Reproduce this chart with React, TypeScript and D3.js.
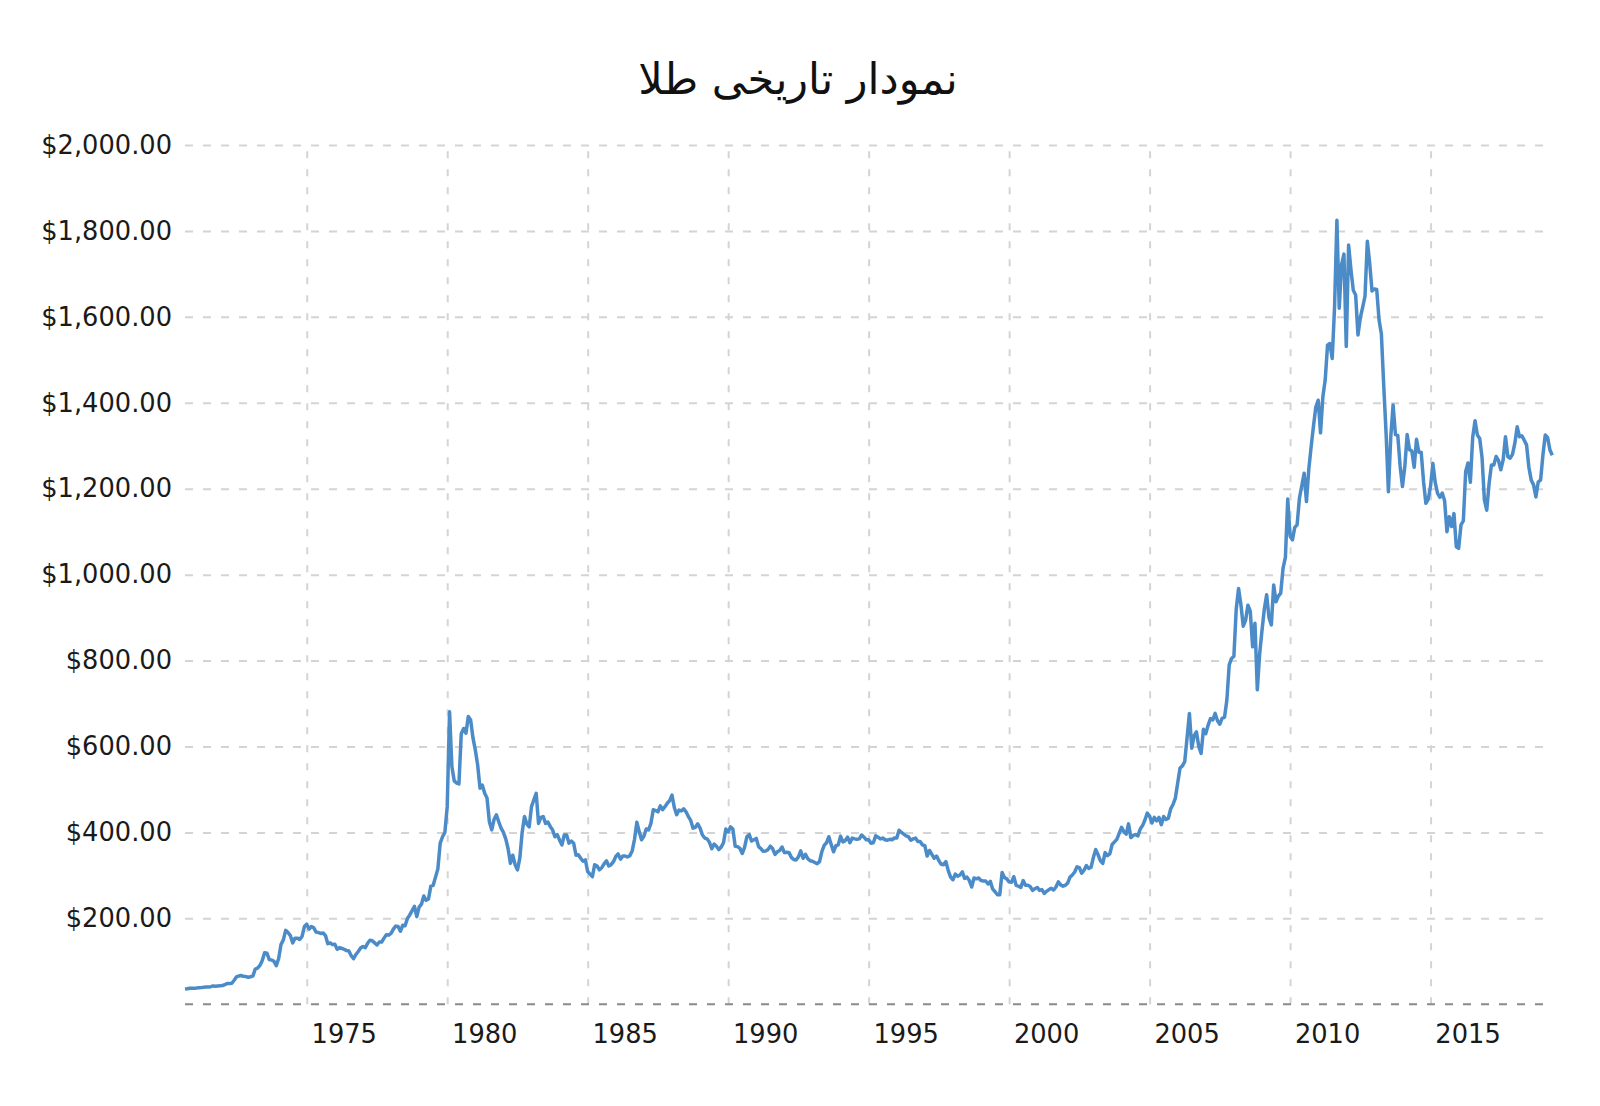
import React, { useEffect, useRef } from "react";
import * as d3 from "d3";

// chart text
const TITLE = "نمودار تاریخی طلا";

// month-end closes, first value is August 1970
const START_YEAR = 1970;
const START_MONTH = 8;

const prices1970s = [
  35.4, 36.2, 37.5, 37.4, 37.4,
  38.0, 38.8, 38.9, 39.5, 40.5, 40.1, 41.0, 42.7, 42.0, 42.5, 42.9, 43.6,
  46.0, 48.3, 48.3, 49.0, 56.0, 64.0, 66.0, 67.0, 65.0, 64.5, 62.9, 63.9,
  66.0, 82.0, 84.0, 90.5, 102, 120, 119, 104, 103, 100, 90, 106.5,
  139, 150, 172, 167, 160, 143, 154, 154, 151, 158, 181, 186.5,
  175, 181, 178, 168, 167, 165, 166, 160, 141, 143, 139, 140,
  128, 132, 130, 128, 125, 124, 113, 106, 116, 123, 131, 134.5,
  132, 142, 149, 148, 143, 138, 145, 145, 154, 162, 161, 165,
  175, 182, 181, 170, 184, 183, 200, 208, 218, 228, 204, 226,
  233, 252, 242, 245, 275, 277, 296, 315, 375, 390, 400, 460,
];

const prices1980s = [
  681, 553, 520, 515, 513, 630, 642, 631, 670, 662, 620, 592,
  557, 503, 510, 491, 480, 425, 406, 430, 441, 425, 410, 400,
  385, 362, 328, 347, 325, 313, 340, 400, 437, 420, 413, 460,
  476, 491, 421, 435, 437, 421, 424, 414, 406, 390, 395, 382,
  371, 394, 394, 375, 380, 375, 347, 348, 340, 333, 336, 309,
  303, 297, 325, 322, 313, 318, 327, 334, 322, 325, 332, 344,
  350, 338, 345, 345, 343, 346, 357, 384, 424, 402, 383, 391,
  408, 406, 421, 453, 451, 448, 462, 453, 460, 468, 474, 487,
  458, 441, 452, 450, 455, 448, 437, 428, 410, 412, 420, 410,
  394, 387, 385, 377, 362, 373, 368, 360, 366, 376, 408, 401,
];

const prices1990s = [
  413, 408, 368, 367, 363, 351, 365, 390, 395, 380, 383, 386,
  367, 362, 356, 357, 360, 368, 362, 349, 355, 358, 366, 353,
  354, 353, 342, 337, 336, 343, 357, 340, 349, 339, 334, 333,
  330, 327, 332, 355, 370, 376, 390, 372, 355, 369, 371, 391,
  378, 381, 389, 376, 387, 385, 384, 385, 394, 389, 383, 383,
  375, 376, 392, 389, 385, 387, 383, 382, 384, 383, 387, 387,
  405, 400, 396, 392, 390, 382, 385, 387, 379, 379, 371, 369,
  345, 358, 349, 340, 345, 334, 326, 325, 332, 311, 296, 290,
  303, 298, 301, 308, 293, 296, 288, 273, 294, 292, 294, 288,
  287, 287, 280, 286, 268, 262, 255, 255, 307, 295, 292, 285,
];

const prices2000s = [
  284, 297, 277, 275, 272, 288, 277, 277, 274, 265, 269, 272,
  265, 267, 258, 263, 267, 270, 266, 273, 285, 278, 275, 277,
  282, 296, 301, 308, 320, 318, 305, 312, 323, 316, 319, 342,
  360, 348, 334, 328, 353, 346, 350, 372, 378, 384, 398, 412,
  402, 396, 420, 388, 393, 395, 392, 408, 416, 429, 445, 438,
  422, 435, 427, 435, 418, 437, 430, 433, 455, 465, 480, 515,
  550, 555, 565, 620, 677, 596, 625, 634, 600, 584, 640, 630,
  650, 665, 662, 677, 660, 652, 666, 668, 708, 790, 805, 810,
  920, 968, 930, 880, 894, 929, 915, 832, 887, 732, 815, 870,
  920, 953, 900, 883, 976, 937, 950, 957, 1015, 1040, 1176, 1090,
];

const prices2010s = [
  1081, 1110, 1116, 1178, 1207, 1236, 1170, 1246, 1298, 1346, 1390, 1406,
  1330, 1414, 1453, 1534, 1538, 1503, 1623, 1825, 1620, 1722, 1746, 1531,
  1767, 1710, 1662, 1651, 1558, 1598, 1622, 1648, 1776, 1725, 1660, 1665,
  1664, 1593, 1560, 1440, 1330, 1193, 1320, 1395, 1326, 1324, 1253, 1205,
  1251, 1326, 1291, 1288, 1250, 1315, 1285, 1285, 1217, 1166, 1175, 1206,
  1259, 1214, 1189, 1180, 1190, 1172, 1100, 1135, 1112, 1142, 1065, 1061,
  1116, 1125, 1240, 1260, 1215, 1320, 1358, 1325, 1317, 1272, 1174, 1150,
  1212, 1255, 1255, 1275, 1266, 1244, 1267, 1321, 1275, 1271, 1280, 1306,
  1344, 1321, 1323, 1313, 1302, 1250, 1220, 1209, 1181, 1216, 1220, 1279,
  1325, 1319, 1290, 1278,
];

const yearTicks = [1975, 1980, 1985, 1990, 1995, 2000, 2005, 2010, 2015];
const priceTicks = [200, 400, 600, 800, 1000, 1200, 1400, 1600, 1800, 2000];

const allPrices = [
  ...prices1970s,
  ...prices1980s,
  ...prices1990s,
  ...prices2000s,
  ...prices2010s,
];

type Point = { t: number; p: number };

const GoldChart = () => {
  const ref = useRef<SVGSVGElement | null>(null);

  useEffect(() => {
    document.body.style.margin = "0";
    const width = 1600;
    const height = 1106;
    const left = 185;
    const right = 1548;
    const top = 145;
    const bottom = 1004.3;
    const font = "'DejaVu Sans', Verdana, sans-serif";

    const data: Point[] = allPrices.map((p, i) => ({
      t: START_YEAR + (START_MONTH + i) / 12,
      p,
    }));

    const svg = d3.select(ref.current);
    svg.selectAll("*").remove();
    svg.attr("width", width).attr("height", height);

    // Scales
    const x = d3
      .scaleLinear()
      .domain([data[0].t, data[data.length - 1].t])
      .range([left, 1552.3]);
    const y = d3.scaleLinear().domain([0, 2000]).range([bottom, top]);

    // Title
    svg
      .append("text")
      .attr("x", 798)
      .attr("y", 94)
      .attr("text-anchor", "middle")
      .attr("direction", "rtl")
      .attr("font-family", font)
      .attr("font-size", 43)
      .attr("fill", "#111")
      .text(TITLE);

    // Y axis with horizontal grid
    const yAxis = svg
      .append("g")
      .attr("transform", `translate(${left},0)`)
      .call(
        d3
          .axisLeft(y)
          .tickValues(priceTicks)
          .tickSize(-(right - left))
          .tickPadding(13)
          .tickFormat((d) => d3.format("$,.2f")(d as number))
      );
    yAxis.select(".domain").remove();
    yAxis
      .selectAll(".tick line")
      .attr("stroke", "#d4d4d4")
      .attr("stroke-width", 2)
      .attr("stroke-dasharray", "8,10");
    yAxis
      .selectAll(".tick text")
      .attr("fill", "#1a1a1a")
      .attr("font-family", font)
      .attr("font-size", 25.7);

    // X axis with vertical grid
    const xAxis = svg
      .append("g")
      .attr("transform", `translate(0,${bottom})`)
      .call(
        d3
          .axisBottom(x)
          .tickValues(yearTicks)
          .tickSize(-(bottom - top))
          .tickPadding(20)
          .tickFormat((d) => String(d))
      );
    xAxis.select(".domain").remove();
    xAxis
      .selectAll(".tick line")
      .attr("stroke", "#d4d4d4")
      .attr("stroke-width", 2)
      .attr("stroke-dasharray", "7,11");
    xAxis
      .selectAll(".tick text")
      .attr("dx", 37)
      .attr("fill", "#1a1a1a")
      .attr("font-family", font)
      .attr("font-size", 25.7);

    // Baseline
    svg
      .append("line")
      .attr("x1", left)
      .attr("x2", right)
      .attr("y1", bottom)
      .attr("y2", bottom)
      .attr("stroke", "#8a8a8a")
      .attr("stroke-width", 2)
      .attr("stroke-dasharray", "8,10");

    // Price line
    const line = d3
      .line<Point>()
      .x((d) => x(d.t))
      .y((d) => y(d.p));
    svg
      .append("path")
      .datum(data)
      .attr("fill", "none")
      .attr("stroke", "#4b8bc8")
      .attr("stroke-width", 3.5)
      .attr("stroke-linejoin", "round")
      .attr("d", line);
  }, []);

  return <svg ref={ref} style={{ display: "block", background: "#fff" }} />;
};

export default function App() {
  return <GoldChart />;
}
